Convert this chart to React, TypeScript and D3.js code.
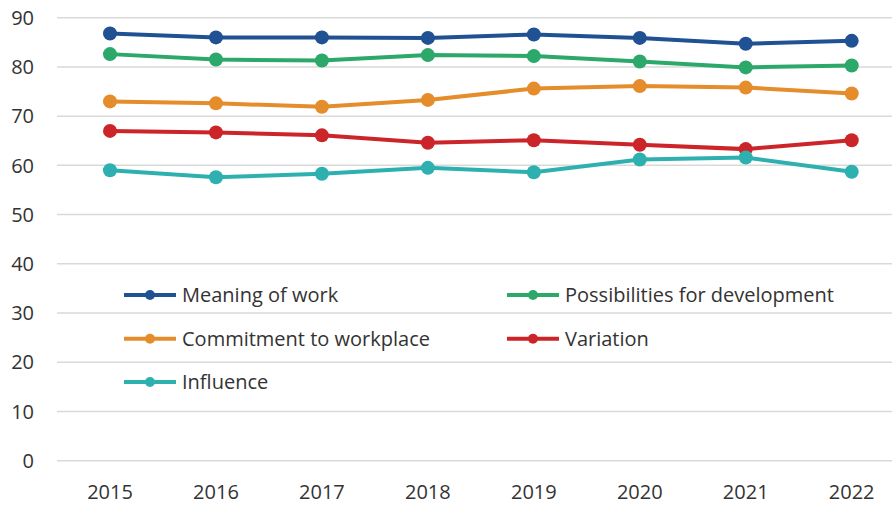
import React from "react";
import * as d3 from "d3";

const years = ["2015", "2016", "2017", "2018", "2019", "2020", "2021", "2022"];
const yTicks = [0, 10, 20, 30, 40, 50, 60, 70, 80, 90];

const seriesNames = [
  "Meaning of work",
  "Possibilities for development",
  "Commitment to workplace",
  "Variation",
  "Influence",
];
const seriesColors = ["#1f5193", "#2ba86a", "#e58c2b", "#cc2529", "#2fb0b0"];

const meaningOfWork = [86.8, 86.0, 86.0, 85.9, 86.6, 85.9, 84.7, 85.3];
const possibilities = [82.6, 81.5, 81.3, 82.4, 82.2, 81.1, 79.9, 80.3];
const commitment = [73.0, 72.6, 71.9, 73.3, 75.6, 76.1, 75.8, 74.6];
const variation = [67.0, 66.7, 66.1, 64.6, 65.1, 64.2, 63.3, 65.1];
const influence = [59.0, 57.6, 58.3, 59.5, 58.6, 61.2, 61.6, 58.7];

const seriesValues = [meaningOfWork, possibilities, commitment, variation, influence];

const W = 892;
const H = 505;
const FONT = "'Open Sans', 'Noto Sans', sans-serif";

export default function App() {
  const x = d3.scalePoint<string>().domain(years).range([110, 851.7]);
  const y = d3.scaleLinear().domain([0, 90]).range([460.7, 17.7]);
  const line = d3
    .line<number>()
    .x((_, i) => x(years[i]) as number)
    .y((d) => y(d));

  const legendCols = [124, 507];
  const legendRows = [295, 338.7, 382];

  return (
    <svg
      width={W}
      height={H}
      style={{ position: "absolute", left: 0, top: 0, background: "#fff" }}
      fontFamily={FONT}
    >
      {yTicks.map((t) => (
        <g key={t}>
          <line x1={57} x2={W} y1={y(t)} y2={y(t)} stroke="#d9d9d9" strokeWidth={1.5} />
          <text x={34} y={y(t)} dy="0.36em" textAnchor="end" fontSize={20} fill="#333">
            {t}
          </text>
        </g>
      ))}
      {years.map((yr) => (
        <text key={yr} x={x(yr)} y={499} textAnchor="middle" fontSize={20} fill="#333">
          {yr}
        </text>
      ))}
      {seriesValues.map((vals, si) => (
        <g key={si}>
          <path d={line(vals) || ""} fill="none" stroke={seriesColors[si]} strokeWidth={4} />
          {vals.map((v, i) => (
            <circle key={i} cx={x(years[i])} cy={y(v)} r={7} fill={seriesColors[si]} />
          ))}
        </g>
      ))}
      {seriesNames.map((name, si) => {
        const lx = legendCols[si % 2];
        const ly = legendRows[Math.floor(si / 2)];
        return (
          <g key={name}>
            <line x1={lx} x2={lx + 52} y1={ly} y2={ly} stroke={seriesColors[si]} strokeWidth={4} />
            <circle cx={lx + 26} cy={ly} r={5} fill={seriesColors[si]} />
            <text x={lx + 58} y={ly} dy="0.36em" fontSize={20} fill="#333">
              {name}
            </text>
          </g>
        );
      })}
    </svg>
  );
}
